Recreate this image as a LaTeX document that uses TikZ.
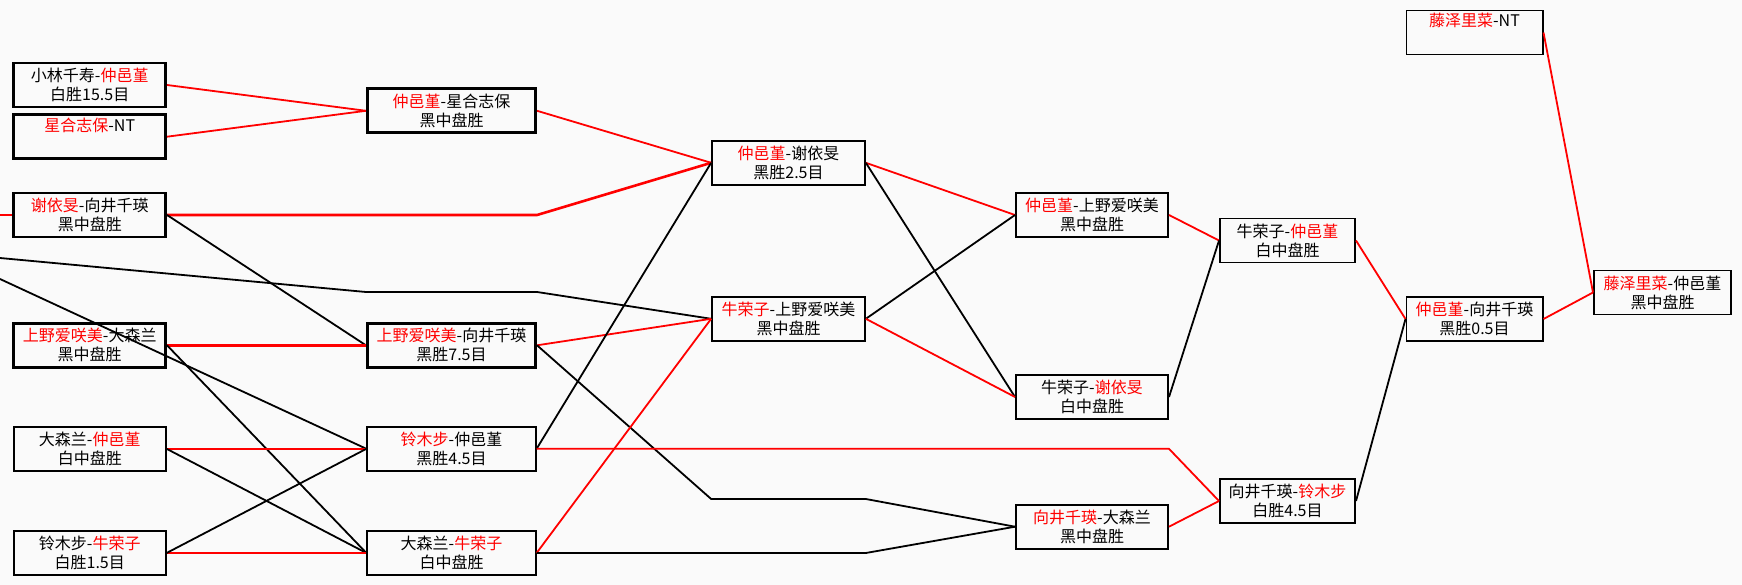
\documentclass[tikz,border=0pt]{standalone}
\usepackage{fontspec}
\newfontfamily\cjk{Noto Sans CJK SC}
\newcommand{\winner}[1]{\textcolor{red}{#1}}

\begin{document}
\begin{tikzpicture}[x=1pt, y=-1pt,
  every node/.style={draw, line width=1.7pt, minimum height=44pt, inner sep=0pt, align=center, font=\cjk\fontsize{16}{19}\selectfont},
  strong/.style={line width=2.6pt},
  col1/.style={minimum width=152pt},
  col2/.style={minimum width=168.5pt},
  col3/.style={minimum width=153pt},
  col4/.style={minimum width=152.3pt},
  col5/.style={minimum width=135.3pt},
  col6/.style={minimum width=136.3pt},
  col7/.style={minimum width=137.3pt},
  win/.style={draw=red, line width=1.8pt},
  lose/.style={draw=black, line width=1.8pt}]
\fill[black!2] (0,0) rectangle (1742,585);
\useasboundingbox (0,0) rectangle (1742,585);

% first round
\node (m11) [col1, strong] at (89.75,85) {小林千寿-\winner{仲邑堇}\\白胜15.5目};
\node (m12) [col1, strong] at (89.75,136.7) {\winner{星合志保}-NT\\\strut};
\node (m13) [col1, strong] at (89.75,215) {\winner{谢依旻}-向井千瑛\\黑中盘胜};
\node (m14) [col1, strong] at (89.75,345.3) {\winner{上野爱咲美}-大森兰\\黑中盘胜};
\node (m15) [col1] at (89.75,448.8) {大森兰-\winner{仲邑堇}\\白中盘胜};
\node (m16) [col1] at (89.75,553) {铃木步-\winner{牛荣子}\\白胜1.5目};

% second round
\node (m21) [col2, strong] at (451.5,110.8) {\winner{仲邑堇}-星合志保\\黑中盘胜};
\node (m22) [col2, strong] at (451.5,345.3) {\winner{上野爱咲美}-向井千瑛\\黑胜7.5目};
\node (m23) [col2] at (451.5,448.8) {\winner{铃木步}-仲邑堇\\黑胜4.5目};
\node (m24) [col2] at (451.5,553) {大森兰-\winner{牛荣子}\\白中盘胜};

% third round
\node (m31) [col3] at (788.5,162.8) {\winner{仲邑堇}-谢依旻\\黑胜2.5目};
\node (m32) [col3] at (788.5,318.8) {\winner{牛荣子}-上野爱咲美\\黑中盘胜};

\node (m41) [col4] at (1092,215) {\winner{仲邑堇}-上野爱咲美\\黑中盘胜};
\node (m42) [col4] at (1092,397) {牛荣子-\winner{谢依旻}\\白中盘胜};
\node (m43) [col4] at (1092,526.7) {\winner{向井千瑛}-大森兰\\黑中盘胜};

\node (m51) [col5] at (1287.5,240.5) {牛荣子-\winner{仲邑堇}\\白中盘胜};
\node (m52) [col5] at (1287.5,501) {向井千瑛-\winner{铃木步}\\白胜4.5目};

\node (m61) [col6] at (1474.5,319) {\winner{仲邑堇}-向井千瑛\\黑胜0.5目};
\node (m62) [col6] at (1474.5,32.5) {\winner{藤泽里菜}-NT\\\strut};

% final
\node (m71) [col7] at (1662.5,292.5) {\winner{藤泽里菜}-仲邑堇\\黑中盘胜};

% lines coming in from the left edge
\coordinate (in13) at (0,215);
\coordinate (in32) at (0,258);
\coordinate (in23) at (0,279);
\coordinate (j32) at (0,292);
\coordinate (j43) at (0,499);

\draw[win, strong] (in13) -- (m13.west);
\draw[lose] (in32) -- (m22.west |- j32) -- (m22.east |- j32) -- (m32.west);
\draw[lose] (in23) -- (m23.west);

\draw[win] (m11.east) -- (m21.west);
\draw[win] (m12.east) -- (m21.west);
\draw[win, strong] (m13.east) -- (m22.east |- m13.east) -- (m31.west);
\draw[lose] (m13.east) -- (m22.west);
\draw[win, strong] (m14.east) -- (m22.west);
\draw[lose] (m14.east) -- (m24.west);
\draw[win] (m15.east) -- (m23.west);
\draw[lose] (m15.east) -- (m24.west);
\draw[win] (m16.east) -- (m24.west);
\draw[lose] (m16.east) -- (m23.west);

\draw[win] (m21.east) -- (m31.west);
\draw[win] (m22.east) -- (m32.west);
\draw[lose] (m22.east) -- (m32.west |- j43) -- (m32.east |- j43) -- (m43.west);
\draw[lose] (m23.east) -- (m31.west);
\draw[win] (m23.east) -- (m43.east |- m23.east) -- (m52.west);
\draw[win] (m24.east) -- (m32.west);
\draw[lose] (m24.east) -- (m32.east |- m24.east) -- (m43.west);

\draw[win] (m31.east) -- (m41.west);
\draw[lose] (m31.east) -- (m42.west);
\draw[lose] (m32.east) -- (m41.west);
\draw[win] (m32.east) -- (m42.west);

\draw[win] (m41.east) -- (m51.west);
\draw[lose] (m42.east) -- (m51.west);
\draw[win] (m43.east) -- (m52.west);

\draw[win] (m51.east) -- (m61.west);
\draw[lose] (m52.east) -- (m61.west);
\draw[win] (m61.east) -- (m71.west);
\draw[win] (m62.east) -- (m71.west);
\end{tikzpicture}
\end{document}
